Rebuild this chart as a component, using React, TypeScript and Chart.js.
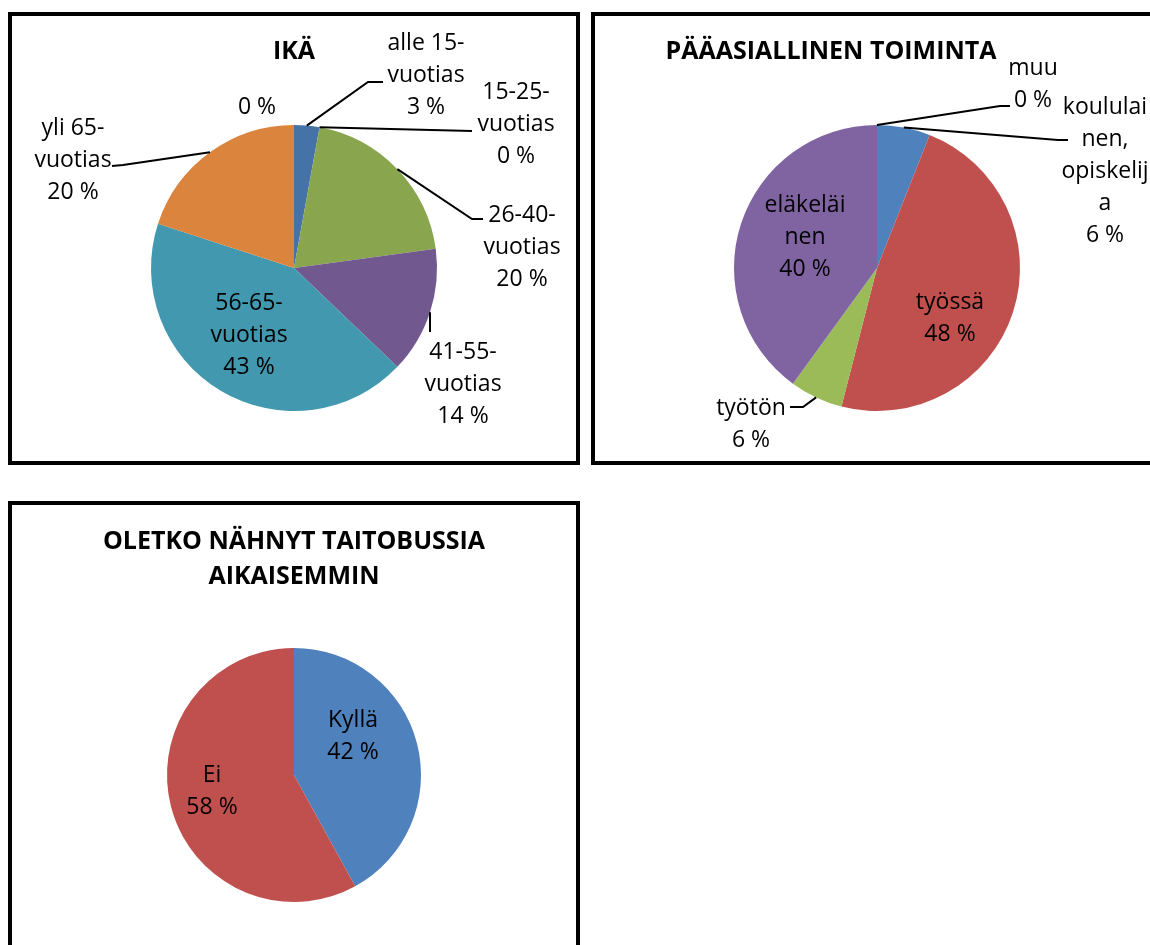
import React, { useEffect, useRef } from 'react';
import { Chart, registerables } from 'chart.js';

Chart.register(...registerables);

// ---------- DATA ----------
const ageTitle = ['IKÄ'];
const ageCategories = ['alle 15-vuotias', '15-25-vuotias', '26-40-vuotias', '41-55-vuotias', '56-65-vuotias', 'yli 65-vuotias', ''];
const ageValues = [1, 0, 7, 5, 15, 7, 0];

const jobTitle = ['PÄÄASIALLINEN TOIMINTA'];
const jobCategories = ['koululainen, opiskelija', 'työssä', 'työtön', 'eläkeläinen', 'muu'];
const jobValues = [3, 24, 3, 20, 0];

const seenTitle = ['OLETKO NÄHNYT TAITOBUSSIA', 'AIKAISEMMIN'];
const seenCategories = ['Kyllä', 'Ei'];
const seenValues = [21, 29];

// ---------- STYLES ----------
const ageColors = ['#4572A7', '#AA4643', '#89A54E', '#71588F', '#4198AF', '#DB843D', '#93A9CF'];
const jobColors = ['#4F81BD', '#C0504D', '#9BBB59', '#8064A2', '#4BACC6'];
const seenColors = ['#4F81BD', '#C0504D'];

type LabelItem = {
  lines: string[];
  dx: number;
  dy: number;
  leader?: number[][];
};

// label placement (relative to pie centre), wrapped name lines as shown
const ageLabels: LabelItem[] = [
  { lines: ['alle 15-', 'vuotias'], dx: 132, dy: -225, leader: [[74, -186], [89, -186]] },
  { lines: ['15-25-', 'vuotias'], dx: 222, dy: -176, leader: [[178, -137]] },
  { lines: ['26-40-', 'vuotias'], dx: 228, dy: -53, leader: [[178, -49], [189, -49]] },
  { lines: ['41-55-', 'vuotias'], dx: 169, dy: 84, leader: [[136, 64]] },
  { lines: ['56-65-', 'vuotias'], dx: -45, dy: 35 },
  { lines: ['yli 65-', 'vuotias'], dx: -221, dy: -140, leader: [[-171, -103], [-182, -102]] },
  { lines: [], dx: -37, dy: -161 },
];

const jobLabels: LabelItem[] = [
  { lines: ['koululai', 'nen,', 'opiskelij', 'a'], dx: 228, dy: -161, leader: [[181, -128], [191, -128]] },
  { lines: ['työssä'], dx: 73, dy: 34 },
  { lines: ['työtön'], dx: -126, dy: 140, leader: [[-74, 139], [-87, 139]] },
  { lines: ['eläkeläi', 'nen'], dx: -72, dy: -63 },
  { lines: ['muu'], dx: 156, dy: -200, leader: [[123, -162], [133, -162]] },
];

const seenLabels: LabelItem[] = [
  { lines: ['Kyllä'], dx: 59, dy: -55 },
  { lines: ['Ei'], dx: -82, dy: 0 },
];

const LABEL_FONT = '23px "Open Sans"';
const TITLE_FONT = 'bold 25px "Open Sans"';
const LINE_H = 32;
const TITLE_LINE_H = 35;

function makeLabelPlugin(items: LabelItem[], title: string[], titleX: number, titleY: number) {
  return {
    id: 'sliceLabels',
    afterDatasetsDraw(chart: any) {
      const ctx = chart.ctx as CanvasRenderingContext2D;
      const meta = chart.getDatasetMeta(0);
      const data = chart.data.datasets[0].data as number[];
      const total = data.reduce((a, b) => a + b, 0);
      ctx.save();
      ctx.fillStyle = '#000';
      ctx.strokeStyle = '#000';
      ctx.lineWidth = 2;
      ctx.textAlign = 'center';
      ctx.textBaseline = 'middle';
      items.forEach((it, i) => {
        const arc = meta.data[i];
        if (!arc) return;
        const p = arc.getProps(['x', 'y', 'startAngle', 'endAngle', 'outerRadius'], true);
        const mid = (p.startAngle + p.endAngle) / 2;
        if (it.leader) {
          ctx.beginPath();
          ctx.moveTo(p.x + Math.cos(mid) * p.outerRadius, p.y + Math.sin(mid) * p.outerRadius);
          it.leader.forEach(([lx, ly]) => ctx.lineTo(p.x + lx, p.y + ly));
          ctx.stroke();
        }
        const pct = Math.round((data[i] / total) * 100) + ' %';
        const lines = [...it.lines, pct];
        ctx.font = LABEL_FONT;
        lines.forEach((ln, k) => ctx.fillText(ln, p.x + it.dx, p.y + it.dy + k * LINE_H));
      });
      ctx.font = TITLE_FONT;
      title.forEach((ln, k) => ctx.fillText(ln, titleX, titleY + k * TITLE_LINE_H));
      ctx.restore();
    },
  };
}

type PieProps = {
  left: number;
  top: number;
  categories: string[];
  values: number[];
  colors: string[];
  radius: number;
  padding: { left: number; right: number; top: number; bottom: number };
  labels: LabelItem[];
  title: string[];
  titleX: number;
  titleY: number;
};

const W = 564;
const H = 445;

function PieBox(props: PieProps) {
  const ref = useRef<HTMLCanvasElement | null>(null);
  useEffect(() => {
    if (!ref.current) return;
    const chart = new Chart(ref.current, {
      type: 'pie',
      data: {
        labels: props.categories,
        datasets: [
          {
            data: props.values,
            backgroundColor: props.colors,
            borderWidth: 0,
            radius: props.radius,
          } as any,
        ],
      },
      options: {
        responsive: false,
        animation: false,
        layout: { padding: props.padding },
        plugins: {
          legend: { display: false },
          tooltip: { enabled: false },
          title: { display: false },
        },
      },
      plugins: [makeLabelPlugin(props.labels, props.title, props.titleX, props.titleY)],
    });
    return () => chart.destroy();
  }, []);
  return (
    <div
      style={{
        position: 'fixed',
        left: props.left,
        top: props.top,
        width: W,
        height: H,
        border: '4px solid #000',
        background: '#fff',
      }}
    >
      <canvas ref={ref} width={W} height={H} style={{ display: 'block' }} />
    </div>
  );
}

export default function App() {
  return (
    <div>
      <PieBox
        left={8}
        top={12}
        categories={ageCategories}
        values={ageValues}
        colors={ageColors}
        radius={143}
        padding={{ left: 100, right: 100, top: 80, bottom: 21 }}
        labels={ageLabels}
        title={ageTitle}
        titleX={282}
        titleY={36}
      />
      <PieBox
        left={591}
        top={12}
        categories={jobCategories}
        values={jobValues}
        colors={jobColors}
        radius={143}
        padding={{ left: 100, right: 100, top: 80, bottom: 21 }}
        labels={jobLabels}
        title={jobTitle}
        titleX={236}
        titleY={36}
      />
      <PieBox
        left={8}
        top={501}
        categories={seenCategories}
        values={seenValues}
        colors={seenColors}
        radius={127}
        padding={{ left: 100, right: 100, top: 100, bottom: 5 }}
        labels={seenLabels}
        title={seenTitle}
        titleX={282}
        titleY={37}
      />
    </div>
  );
}
